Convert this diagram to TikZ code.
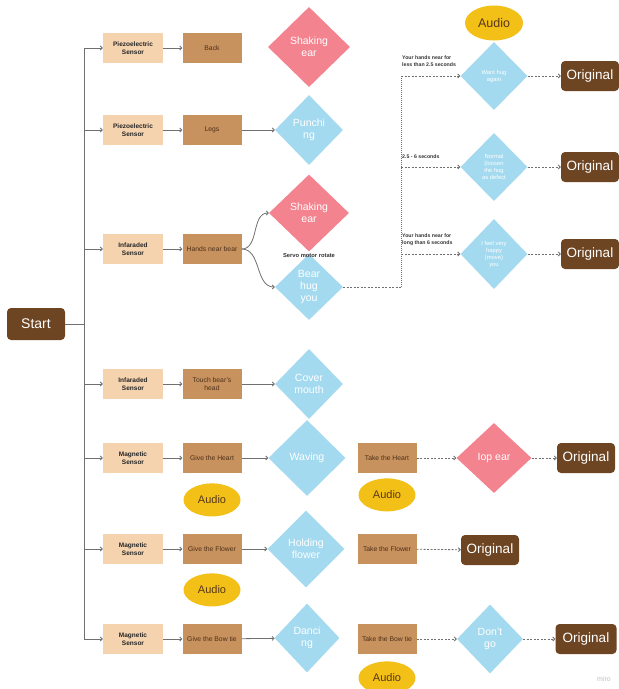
\documentclass[tikz,border=0pt]{standalone}
\usepackage{fontspec}
\setmainfont{Liberation Sans}
\usetikzlibrary{shapes.geometric, arrows.meta, positioning}

\definecolor{sensorc}{HTML}{F5D3AF}
\definecolor{actc}{HTML}{C8925F}
\definecolor{brownc}{HTML}{6E4522}
\definecolor{pinkc}{HTML}{F2838F}
\definecolor{bluec}{HTML}{A3DAEF}
\definecolor{audioc}{HTML}{F2C016}
\definecolor{linec}{HTML}{707070}

\tikzset{
  sensor/.style={fill=sensorc, minimum width=60pt, minimum height=30pt, inner sep=1pt,
    align=center, text=black!85, font=\bfseries\fontsize{6.5}{7.5}\selectfont},
  act/.style={fill=actc, minimum width=59pt, minimum height=30pt, inner sep=1pt,
    align=center, text=brownc!70!black, font=\fontsize{6.8}{8}\selectfont},
  endbox/.style={fill=brownc, rounded corners=4pt, text=white, minimum width=58pt,
    minimum height=30pt, inner sep=2pt, font=\fontsize{13.5}{15}\selectfont},
  dia/.style={diamond, inner sep=0pt, align=center, text=white, font=\fontsize{10.5}{12}\selectfont},
  pinkdia/.style={dia, fill=pinkc},
  bluedia/.style={dia, fill=bluec},
  smalltext/.style={font=\fontsize{5.8}{7}\selectfont},
  dsz/.style 2 args={minimum width=#1pt, minimum height=#2pt},
  audio/.style={ellipse, fill=audioc, minimum width=57pt, minimum height=33pt, inner sep=0pt,
    text=brownc!80!black, font=\fontsize{11}{13}\selectfont},
  cond/.style={inner sep=1pt, align=left, text=black!80, font=\bfseries\fontsize{5.2}{7.5}\selectfont},
  line/.style={draw=linec, line width=0.8pt},
  conn/.style={line, -{Straight Barb[length=2pt, width=4pt]}},
  dline/.style={draw=linec, line width=0.8pt, dash pattern=on 2pt off 1.5pt},
  dconn/.style={dline, -{Straight Barb[length=2pt, width=4pt]}},
  dotline/.style={draw=linec, line width=0.8pt, dash pattern=on 1pt off 1pt}
}

\begin{document}
\begin{tikzpicture}[x=1pt, y=-1pt]
    \useasboundingbox (0,0) rectangle (619,689);

    % 1. Start node
    \node[endbox, minimum height=32pt, font=\fontsize{14}{16}\selectfont] (Start) at (36,324) {Start};

    % 2. Sensor rows: trunk point, sensor box, trigger box
    \foreach \i/\y/\sname/\aname in {1/48/Piezoelectric\\Sensor/Back,
        2/130/Piezoelectric\\Sensor/Legs,
        3/249/Infaraded\\Sensor/Hands near bear,
        4/384/Infaraded\\Sensor/Touch bear's\\head,
        5/458/Magnetic\\Sensor/Give the Heart,
        6/549/Magnetic\\Sensor/Give the Flower,
        7/639/Magnetic\\Sensor/Give the Bow tie}
    {
        \coordinate (T\i) at (84,\y);
        \node[sensor] (S\i) at (133,\y) {\sname};
        \node[act] (A\i) at (212,\y) {\aname};
        \draw[conn] (T\i) -- (S\i);
        \draw[conn] (S\i) -- (A\i);
    }

    % trunk
    \draw[line] (T1) -- (T7);
    \draw[line] (Start.east) -- (Start.east -| T1);

    % 3. First reactions
    \node[pinkdia, dsz={82}{80}] (SE1) at (309,47) {Shaking\\ear};
    \node[bluedia, dsz={68}{70}] (PU) at (309,130) {Punchi\\ng};
    \node[pinkdia, dsz={80}{77}] (SE2) at (309,213) {Shaking\\ear};
    \node[bluedia, dsz={68}{66}] (BH) at (309,287) {Bear\\hug\\you};
    \node[bluedia, dsz={68}{70}] (CM) at (309,384) {Cover\\mouth};
    \node[bluedia, dsz={77}{76}] (WV) at (307,458) {Waving};
    \node[bluedia, dsz={77}{77}] (HF) at (306,549) {Holding\\flower};
    \node[bluedia, dsz={65}{69}] (DA) at (307,638) {Danci\\ng};
    \node[font=\bfseries\fontsize{5.8}{7}\selectfont, text=black!80, inner sep=0pt] (servo) at (309,255) {Servo motor rotate};

    \draw[conn] (A2) -- (PU);
    \draw[conn] (A3.east) to[out=0, in=180] (SE2.west);
    \draw[conn] (A3.east) to[out=0, in=180] (BH.west);
    \draw[conn] (A4) -- (CM);
    \draw[conn] (A5) -- (WV);
    \draw[conn] (A6) -- (HF);
    \draw[conn] (A7) -- (DA);

    % 4. Hug timing branch
    \coordinate (J0) at (401,287);
    \coordinate (J1) at (401,76);
    \coordinate (J2) at (401,167);
    \coordinate (J3) at (401,254);
    \node[bluedia, dsz={67}{68}, smalltext] (WH) at (494,76) {Want hug\\again};
    \node[bluedia, dsz={67}{68}, smalltext] (NO) at (494,167) {Normal\\(loosen\\the hug\\as defect};
    \node[bluedia, dsz={67}{70}, smalltext] (FH) at (494,254) {I feel very\\happy\\(move)\\you};
    \node[audio, font=\fontsize{12.5}{14}\selectfont, minimum width=58pt, minimum height=35pt] (AU1) at (494,23) {Audio};
    \node[endbox] (O1) at (590,76) {Original};
    \node[endbox] (O2) at (590,167) {Original};
    \node[endbox] (O3) at (590,254) {Original};

    \draw[dline] (BH.east) -- (J0);
    \draw[dotline] (J1) -- (J0);
    \draw[dconn] (J1) -- (WH);
    \draw[dconn] (J2) -- (NO);
    \draw[dconn] (J3) -- (FH);
    \draw[dconn] (WH) -- (O1);
    \draw[dconn] (NO) -- (O2);
    \draw[dconn] (FH) -- (O3);

    \node[cond, anchor=south west] (L1) at (401,68) {Your hands near for\\less than 2.5 seconds};
    \node[cond, anchor=south west] (L2) at (401,160) {2.5 - 6 seconds};
    \node[cond, anchor=south west] (L3) at (401,247) {Your hands near for\\long than 6 seconds};

    % 5. Take-away rows
    \node[act] (B5) at (387,458) {Take the Heart};
    \node[act] (B6) at (387,549) {Take the Flower};
    \node[act] (B7) at (387,639) {Take the Bow tie};
    \node[pinkdia, dsz={75}{70}] (IE) at (494,458) {Iop ear};
    \node[bluedia, dsz={66}{69}] (DG) at (490,639) {Don't\\go};
    \node[endbox] (O4) at (586,458) {Original};
    \node[endbox] (O5) at (490,550) {Original};
    \node[endbox, minimum width=61pt] (O6) at (586,639) {Original};

    \draw[dconn] (B5) -- (IE);
    \draw[dconn] (IE) -- (O4);
    \draw[dconn] (B6) -- (O5);
    \draw[dconn] (B7) -- (DG);
    \draw[dconn] (DG) -- (O6);

    % 6. Audio tags
    \node[audio, below=10pt of A5] (AU2) {Audio};
    \node[audio, below=5pt of B5] (AU3) {Audio};
    \node[audio, below=9pt of A6] (AU4) {Audio};
    \node[audio, below=7pt of B7] (AU5) {Audio};

    \node[text=black!25, font=\fontsize{7}{8}\selectfont] (miro) at (604,679) {miro};

\end{tikzpicture}
\end{document}
